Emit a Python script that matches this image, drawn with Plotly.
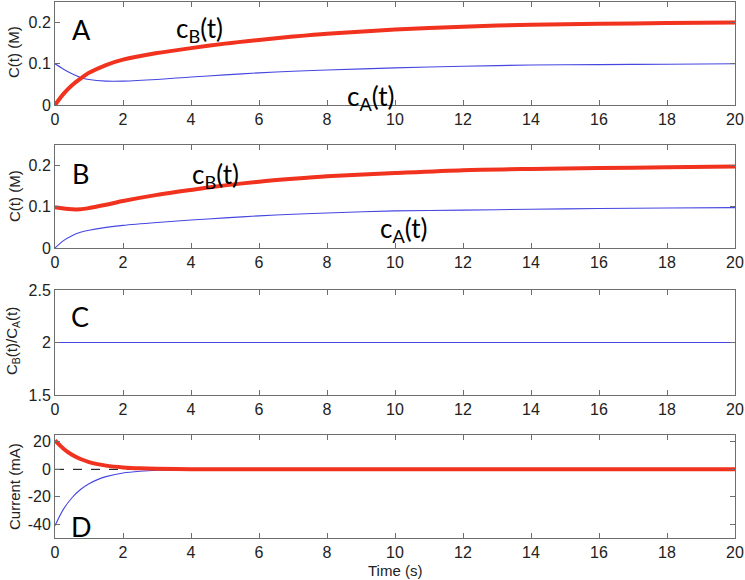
import plotly.graph_objects as go

# ---- data ----
t_ab = [0, 0.25, 0.5, 0.75, 1, 1.5, 2, 3, 4, 5, 6, 7, 8, 10, 12, 14, 16, 18, 20]
cB_A = [0.0, 0.027, 0.048, 0.064, 0.078, 0.097, 0.110, 0.126, 0.138, 0.149, 0.158, 0.166, 0.173, 0.183, 0.190, 0.195, 0.197, 0.199, 0.200]
cA_A = [0.100, 0.087, 0.076, 0.067, 0.062, 0.058, 0.058, 0.062, 0.068, 0.073, 0.078, 0.082, 0.085, 0.090, 0.094, 0.097, 0.098, 0.099, 0.100]
cB_B = [0.099, 0.096, 0.094, 0.094, 0.097, 0.105, 0.114, 0.129, 0.141, 0.152, 0.161, 0.168, 0.174, 0.182, 0.189, 0.192, 0.194, 0.196, 0.198]
cA_B = [0.0, 0.018, 0.030, 0.038, 0.043, 0.050, 0.055, 0.062, 0.068, 0.073, 0.078, 0.082, 0.085, 0.090, 0.092, 0.094, 0.096, 0.097, 0.098]
t_c = [0, 20]
ratio_C = [2, 2]
t_d = [0, 0.25, 0.5, 0.75, 1, 1.25, 1.5, 2, 2.5, 3, 4, 5, 10, 20]
iB_D = [21, 15, 10.6, 7.5, 5.3, 3.8, 2.7, 1.4, 0.7, 0.35, 0.1, 0, 0, 0]
iA_D = [-41, -29, -20.7, -14.7, -10.5, -7.5, -5.3, -2.7, -1.4, -0.7, -0.2, 0, 0, 0]
zero_line = [0, 0]
x_ticks = [0, 2, 4, 6, 8, 10, 12, 14, 16, 18, 20]

RED = "#f0321e"
BLUE = "#4646e0"
FRAME = "#6e6e6e"

W, H = 745, 580
def py(p):  # pixel (from top) -> paper
    return 1 - p / H

fig = go.Figure()

def add(x, y, color, width, row, dash=None, shape="spline"):
    ax = "" if row == 1 else str(row)
    fig.add_trace(go.Scatter(x=x, y=y, mode="lines",
                             line=dict(color=color, width=width, dash=dash, shape=shape, smoothing=0.8),
                             xaxis="x" + ax, yaxis="y" + ax, showlegend=False, hoverinfo="skip",
                             cliponaxis=True))

add(t_ab, cA_A, BLUE, 1.1, 1)
add(t_ab, cB_A, RED, 4, 1)
add(t_ab, cA_B, BLUE, 1.1, 2)
add(t_ab, cB_B, RED, 4, 2)
add(t_c, ratio_C, BLUE, 1.1, 3, shape="linear")
add(t_c, zero_line, "#000000", 1, 4, dash="dash", shape="linear")
add(t_d, iA_D, BLUE, 1.1, 4)
add(t_d, iB_D, RED, 4, 4)

x_dom = [55 / W, 735 / W]
panels = [
    (2, 105, [0, 0.25], [0, 0.1, 0.2], ["0", "0.1", "0.2"]),
    (145, 248, [0, 0.25], [0, 0.1, 0.2], ["0", "0.1", "0.2"]),
    (290, 395, [1.5, 2.5], [1.5, 2, 2.5], ["1.5", "2", "2.5"]),
    (435, 538, [-50, 25], [-40, -20, 0, 20], ["-40", "-20", "0", "20"]),
]
tickfont = dict(family="Liberation Sans, Arial, sans-serif", size=16, color="#222222")
layout = {}
for i, (top, bot, yr, tv, tt) in enumerate(panels, start=1):
    sfx = "" if i == 1 else str(i)
    layout["xaxis" + sfx] = dict(domain=x_dom, range=[0, 20], tickvals=x_ticks,
                                 ticks="inside", ticklen=5, tickcolor=FRAME, showline=True,
                                 linecolor=FRAME, linewidth=1, mirror="ticks", showgrid=False,
                                 zeroline=False, tickfont=tickfont, anchor="y" + sfx,
                                 automargin=False)
    layout["yaxis" + sfx] = dict(domain=[py(bot), py(top)], range=yr, tickvals=tv, ticktext=tt,
                                 ticks="inside", ticklen=5, tickcolor=FRAME, showline=True,
                                 linecolor=FRAME, linewidth=1, mirror="ticks", showgrid=False,
                                 zeroline=False, tickfont=tickfont, anchor="x" + sfx,
                                 automargin=False)

big = dict(family="Lato, Open Sans, sans-serif", size=27, color="#000000")
lab = dict(family="Lato, Open Sans, sans-serif", size=26, color="#000000")
ytf = dict(family="Liberation Sans, Arial, sans-serif", size=15, color="#222222")

def ann(text, x, y, font, angle=0):
    return dict(text=text, x=x / W, y=py(y), xref="paper", yref="paper", showarrow=False,
                font=font, textangle=angle, xanchor="center", yanchor="middle")

annotations = [
    ann("A", 81, 29, big),
    ann("B", 80, 173, big),
    ann("C", 80, 316, big),
    ann("D", 81, 526, big),
    ann("c<sub>B</sub>(t)", 199, 29, lab),
    ann("c<sub>A</sub>(t)", 370, 97, lab),
    ann("c<sub>B</sub>(t)", 215, 176, lab),
    ann("c<sub>A</sub>(t)", 403, 229, lab),
    ann("C(t) (M)", 14, 52, ytf, -90),
    ann("C(t) (M)", 14, 196, ytf, -90),
    ann("C<sub>B</sub>(t)/C<sub>A</sub>(t)", 12, 341, ytf, -90),
    ann("Current (mA)", 14, 487, ytf, -90),
    ann("Time (s)", 395, 570, ytf),
]

fig.update_layout(width=W, height=H, margin=dict(l=0, r=0, t=0, b=0, autoexpand=False),
                  paper_bgcolor="white", plot_bgcolor="white",
                  annotations=annotations, **layout)

fig.write_html("out.html", config={"displayModeBar": False})

# remove the browser's default page margin so the figure sits at the window's corner
with open("out.html", "r", encoding="utf-8") as f:
    html = f.read()
html = html.replace("<head>", "<head><style>html,body{margin:0;padding:0;overflow:hidden;}</style>", 1)
with open("out.html", "w", encoding="utf-8") as f:
    f.write(html)
